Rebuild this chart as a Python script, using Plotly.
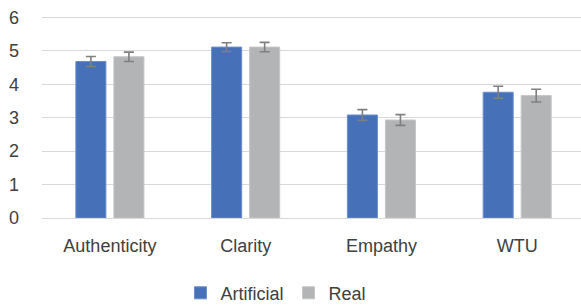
import plotly.graph_objects as go

categories = ["Authenticity", "Clarity", "Empathy", "WTU"]
artificial = [4.68, 5.11, 3.08, 3.76]
artificial_err = [0.15, 0.13, 0.16, 0.18]
real = [4.82, 5.11, 2.93, 3.66]
real_err = [0.14, 0.14, 0.16, 0.19]
y_ticks = [0, 1, 2, 3, 4, 5, 6]

FONT = "Liberation Sans"
TXT = "#404040"

fig = go.Figure()
fig.add_trace(go.Bar(
    name="Artificial", x=categories, y=artificial,
    marker=dict(color="#4671B9", line=dict(color="#6A8DCB", width=1)),
    error_y=dict(type="data", array=artificial_err, visible=True,
                 color="#7F7F7F", thickness=1.6, width=5),
))
fig.add_trace(go.Bar(
    name="Real", x=categories, y=real,
    marker=dict(color="#B3B4B6", line=dict(color="#C4C5C7", width=1)),
    error_y=dict(type="data", array=real_err, visible=True,
                 color="#7F7F7F", thickness=1.6, width=5),
))

fig.update_layout(
    width=581, height=305,
    margin=dict(l=42, r=0, t=15.6, b=86.5, autoexpand=False),
    paper_bgcolor="white", plot_bgcolor="white",
    barmode="group", bargap=0.44, bargroupgap=0.21,
    font=dict(family=FONT, size=18, color=TXT),
    showlegend=True,
    legend=dict(orientation="h", xref="container", yref="container",
                x=0.475, xanchor="center", y=0.039, yanchor="middle",
                font=dict(family=FONT, size=18, color=TXT),
                itemwidth=30, tracegroupgap=0, traceorder="normal"),
    xaxis=dict(range=[-0.5, 3.47], showgrid=False, showline=False, zeroline=False,
               ticks="", ticklabelstandoff=15, tickfont=dict(size=18, color=TXT)),
    yaxis=dict(range=[0, 6.04], tickvals=y_ticks, showgrid=True, gridcolor="#D9D9D9",
               gridwidth=1.3, zeroline=True, zerolinecolor="#D9D9D9", zerolinewidth=1.3,
               showline=False, ticks="", ticklabelstandoff=22,
               tickfont=dict(size=18, color=TXT)),
)

# remove the browser's default 8px body margin so the figure fills the window
fig.write_html("out.html",
               config={"displayModeBar": False},
               post_script="document.body.style.margin='0';document.body.style.overflow='hidden';")
